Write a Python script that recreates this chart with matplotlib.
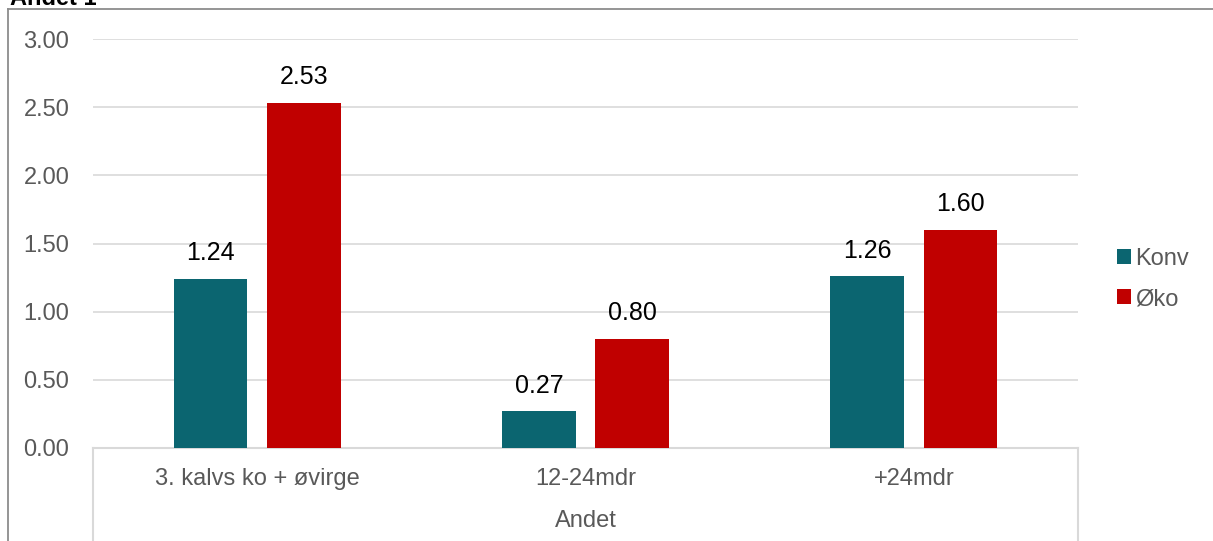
import matplotlib.pyplot as plt
import numpy as np
from matplotlib.lines import Line2D

plt.rcParams['font.family'] = ['Liberation Sans', 'DejaVu Sans']

# ========== ДАННЫЕ ==========
categories = ["3. kalvs ko + øvirge", "12-24mdr", "+24mdr"]
group_label = "Andet"
series_names = ["Konv", "Øko"]
konv = [1.24, 0.27, 1.26]
oko = [2.53, 0.80, 1.60]
y_ticks = [0.0, 0.5, 1.0, 1.5, 2.0, 2.5, 3.0]
title = "Andet 1"

colors = ["#0B6570", "#C00000"]
text_col = "#595959"
grid_col = "#D9D9D9"

W, H = 1213, 541
fig = plt.figure(figsize=(W / 100, H / 100), dpi=100)
ax = fig.add_axes([93 / W, 1 - 448 / H, (1078 - 93) / W, (448 - 39) / H])

x = np.arange(len(categories))
width = 0.225
off = 0.142
for vals, name, col, sgn in [(konv, series_names[0], colors[0], -1),
                             (oko, series_names[1], colors[1], 1)]:
    bars = ax.bar(x + sgn * off, vals, width, color=col, label=name, zorder=3)
    for b, v in zip(bars, vals):
        ax.text(b.get_x() + b.get_width() / 2, v + 0.1, f"{v:.2f}",
                ha="center", va="bottom", fontsize=18, color="black")

ax.set_xlim(-0.5, len(categories) - 0.5)
ax.set_ylim(0, 3.0)
ax.set_yticks(y_ticks)
ax.set_yticklabels([f"{t:.2f}" for t in y_ticks])
ax.tick_params(axis="y", length=0, pad=17, labelsize=17, labelcolor=text_col)
ax.set_xticks([])
ax.grid(axis="y", color=grid_col, linewidth=1.2, zorder=0)
for s in ["top", "right", "left"]:
    ax.spines[s].set_visible(False)
ax.spines["bottom"].set_color(grid_col)
ax.spines["bottom"].set_linewidth(1.5)

# подписи категорий и группы
for i, c in enumerate(categories):
    ax.text(i, -0.225, c, ha="center", va="center", fontsize=17, color=text_col,
            clip_on=False)
ax.text(1, -0.535, group_label, ha="center", va="center", fontsize=17,
        color=text_col, clip_on=False)

# вертикальные разделители
for xp in [93, 1078]:
    fig.add_artist(Line2D([xp / W, xp / W], [0, 1 - 448 / H],
                          color=grid_col, linewidth=1.5))

# рамка и заголовок
fig.add_artist(Line2D([8 / W, 8 / W], [0, 1 - 9 / H], color="#8C8C8C", linewidth=1.3))
fig.add_artist(Line2D([8 / W, 1], [1 - 9 / H, 1 - 9 / H], color="#8C8C8C", linewidth=1.3))
fig.text(10 / W, 1 - 5 / H, title, fontsize=17, fontweight="bold",
         ha="left", va="baseline", color="black")

ax.legend(loc="center left", bbox_to_anchor=(1.03, 0.413), frameon=False,
          fontsize=17, labelcolor=text_col, handlelength=0.6, handleheight=0.6,
          handletextpad=0.15, labelspacing=0.78, borderaxespad=0)

fig.savefig("out.png", dpi=100)
